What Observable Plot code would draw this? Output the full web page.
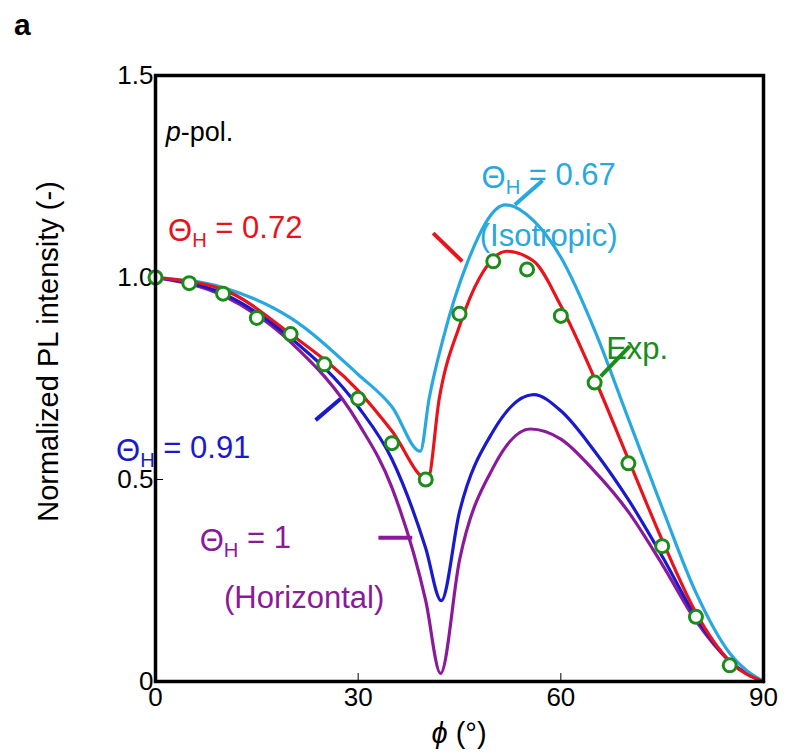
<!DOCTYPE html>
<html><head>
<script src="https://cdn.jsdelivr.net/npm/d3@7"></script>
<script src="https://cdn.jsdelivr.net/npm/@observablehq/plot@0.6"></script>
<style>body{margin:0;background:#fff;font-family:Arial,"Liberation Sans",sans-serif}</style>
</head><body><div id="c"></div>
<script>
const expPhi = [0,5,10,15,20,25,30,35,40,45,50,55,60,65,70,75,80,85];
const expVal = [1.0,0.986,0.96,0.90,0.86,0.785,0.70,0.59,0.50,0.91,1.04,1.02,0.905,0.74,0.54,0.335,0.16,0.04];
const isoPhi = [0,10,20,30,35,39.2,40.5,42.6,46,51.8,56,60,65,70,75,80,85,90];
const isoVal = [1,0.975,0.9,0.76,0.68,0.57,0.70,0.85,1.03,1.18,1.14,1.05,0.87,0.65,0.43,0.22,0.07,0];
const redPhi = [0,10,20,30,35,40.3,42,45,48,52,56,60,65,70,75,80,85,90];
const redVal = [1,0.97,0.86,0.72,0.62,0.50,0.70,0.88,1.0,1.065,1.04,0.93,0.75,0.55,0.35,0.17,0.05,0];
const bluePhi = [0,10,20,30,35,40,42.3,45,50,56,60,65,70,75,80,85,90];
const blueVal = [1,0.96,0.85,0.68,0.55,0.33,0.2,0.42,0.62,0.71,0.67,0.57,0.45,0.31,0.16,0.05,0];
const purPhi = [0,10,20,30,35,40,42.2,45,50,55.5,60,65,70,75,80,85,90];
const purVal = [1,0.955,0.84,0.64,0.48,0.2,0.02,0.3,0.53,0.625,0.60,0.52,0.42,0.29,0.15,0.05,0];
const xTicks = [0,30,60,90];
const yTicks = [0,0.5,1.0,1.5];
const yTickLabels = ["0","0.5","1.0","1.5"];

const C = {iso:"#29a8e0", red:"#e8131b", blue:"#1a1acc", pur:"#8b1a9b", grn:"#1a8c1a"};
const zip = (a,b)=>a.map((x,i)=>({x,y:b[i]}));
const labels = [
  {x:58.2,y:1.245,t:"Θ_H = 0.67",c:C.iso,a:"start"},
  {x:58.2,y:1.103,t:"(Isotropic)",c:C.iso,a:"start"},
  {x:11.8,y:1.114,t:"Θ_H = 0.72",c:C.red,a:"start"},
  {x:71.3,y:0.823,t:"Exp.",c:C.grn,a:"start"},
  {x:4.1,y:0.57,t:"Θ_H = 0.91",c:C.blue,a:"start"},
  {x:13.3,y:0.348,t:"Θ_H = 1",c:C.pur,a:"start"},
  {x:22.0,y:0.207,t:"(Horizontal)",c:C.pur,a:"middle"}
];
const leaders = [
  {x1:53.2,y1:1.18,x2:57.3,y2:1.24,c:C.iso},
  {x1:41.1,y1:1.11,x2:45.4,y2:1.04,c:C.red},
  {x1:65.9,y1:0.755,x2:70.2,y2:0.83,c:C.grn},
  {x1:23.7,y1:0.647,x2:27.4,y2:0.70,c:C.blue},
  {x1:33,y1:0.356,x2:38,y2:0.356,c:C.pur}
];
const line = (d,c)=>Plot.line(d,{x:"x",y:"y",stroke:c,strokeWidth:3.2,curve:"monotone-x"});
const plot = Plot.plot({
  width:790,height:700,marginLeft:155,marginRight:27,marginTop:22,marginBottom:72,
  style:{fontFamily:"Arial, Liberation Sans, sans-serif",fontSize:"26px",overflow:"visible"},
  x:{domain:[0,90],label:null},
  y:{domain:[0,1.5],label:null},
  marks:[
    Plot.axisX({ticks:xTicks,tickSize:-8,tickPadding:14,fontSize:26,label:null}),
    Plot.axisY({ticks:yTicks,tickFormat:d=>yTickLabels[yTicks.indexOf(d)],tickSize:-8,tickPadding:10,fontSize:26,label:null}),
    line(zip(purPhi,purVal),C.pur),
    line(zip(bluePhi,blueVal),C.blue),
    line(zip(isoPhi,isoVal),C.iso),
    line(zip(redPhi,redVal),C.red),
    Plot.dot(zip(expPhi,expVal),{x:"x",y:"y",r:6.5,stroke:C.grn,strokeWidth:3,fill:"white"}),
    Plot.link(leaders,{x1:"x1",y1:"y1",x2:"x2",y2:"y2",stroke:"c",strokeWidth:4}),
    Plot.text(labels,{x:"x",y:"y",text:"t",fill:"c",textAnchor:"a",fontSize:31}),
    Plot.text([{x:1.5,y:1.36}],{x:"x",y:"y",text:()=>"p-pol.",textAnchor:"start",fontSize:27}),
    Plot.frame({stroke:"black",strokeWidth:3.5})
  ]
});
d3.select(plot).selectAll("g[aria-label=text] text").each(function(){
  const s=d3.select(this); const t=s.text();
  if(t.includes("_H")){
    const [a,b]=t.split("_H"); s.text(null);
    s.append("tspan").text(a);
    s.append("tspan").attr("font-size","0.65em").attr("dy","0.3em").text("H");
    s.append("tspan").attr("dy","-0.3em").text(b);
  } else if(t==="p-pol."){
    s.text(null);
    s.append("tspan").attr("font-style","italic").text("p");
    s.append("tspan").text("-pol.");
  }
});
const svg=d3.select(plot);
const cy=(22+628-53)/2;
svg.append("text").attr("x",48).attr("y",cy).attr("transform",`rotate(-90,48,${cy})`)
  .attr("text-anchor","middle").attr("font-size",29).attr("dy","0.35em").text("Normalized PL intensity (-)");
const xl=svg.append("text").attr("x",(155+763)/2).attr("y",690).attr("text-anchor","middle").attr("font-size",29);
xl.append("tspan").attr("font-style","italic").text("ϕ");
xl.append("tspan").text(" (°)");
const host=document.getElementById("c");
const header=document.createElement("div");
header.style.cssText="height:53px;position:relative;font:bold 30px Arial,Liberation Sans,sans-serif";
header.innerHTML='<span style="position:absolute;left:14px;top:8px">a</span>';
host.appendChild(header);
host.appendChild(plot);
</script></body></html>
